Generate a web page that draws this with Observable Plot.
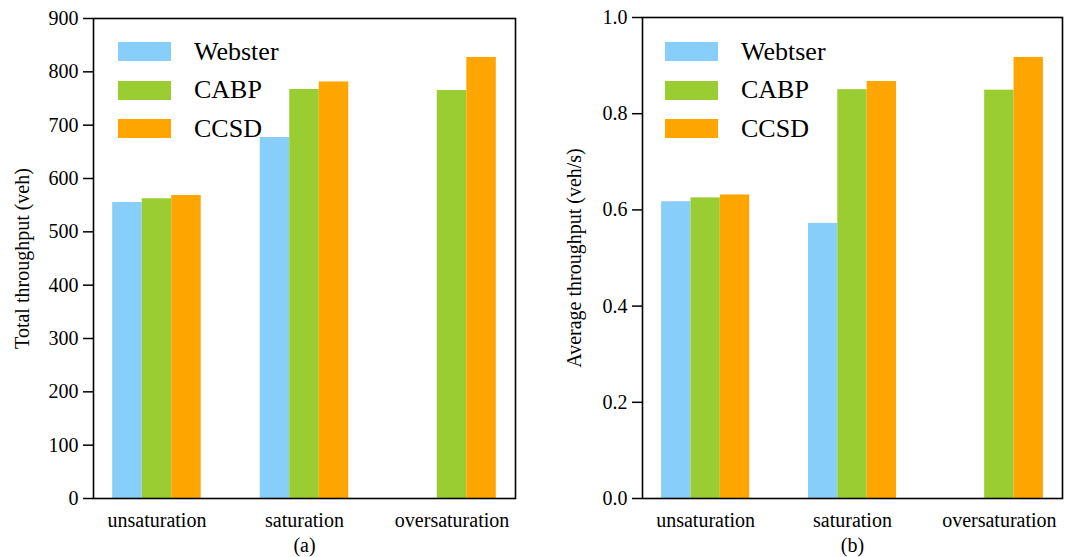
<!DOCTYPE html>
<html>
<head>
<meta charset="utf-8">
<script src="https://cdn.jsdelivr.net/npm/d3@7"></script>
<script src="https://cdn.jsdelivr.net/npm/@observablehq/plot@0.6"></script>
<style>
  html, body { margin: 0; padding: 0; background: #fff; }
  #wrap { position: relative; width: 1078px; height: 557px; overflow: hidden; font-family: "Liberation Serif", "Times New Roman", serif; }
  .panel { position: absolute; top: 0; }
  .legend { position: absolute; top: 0; left: 0; width: 100%; height: 100%; pointer-events: none; }
  .lg-row { position: absolute; display: flex; align-items: center; font-size: 26px; color: #000; }
  .lg-patch { width: 53px; height: 19px; margin-right: 23px; }
</style>
</head>
<body>
<div id="wrap"></div>
<script>
// ---- data ----
const categories = ["unsaturation", "saturation", "oversaturation"];
const colors = ["#87CEFA", "#9ACD32", "#FFA500"];

// panel (a): Total throughput (veh)
const seriesA = ["Webster", "CABP", "CCSD"];
const websterTotal = [555, 677, null];
const cabpTotal = [562, 767, 765];
const ccsdTotal = [568, 781, 827];
const ticksA = [0, 100, 200, 300, 400, 500, 600, 700, 800, 900];

// panel (b): Average throughput (veh/s)
const seriesB = ["Webtser", "CABP", "CCSD"];
const websterAvg = [0.617, 0.572, null];
const cabpAvg = [0.625, 0.850, 0.849];
const ccsdAvg = [0.631, 0.867, 0.917];
const ticksB = [0.0, 0.2, 0.4, 0.6, 0.8, 1.0];

const barWidth = 0.2;

function rows(seriesNames, valueLists) {
  const out = [];
  valueLists.forEach((vals, j) => {
    vals.forEach((v, i) => {
      if (v == null) return;
      const center = i + (j - 1) * barWidth;
      out.push({series: seriesNames[j], cat: i, x1: center - barWidth / 2, x2: center + barWidth / 2, value: v});
    });
  });
  return out;
}

function panel({data, seriesNames, yDomain, yTicks, yFormat, yLabel, tag, width, marginLeft, marginRight, marginTop, labelDx}) {
  return Plot.plot({
    width, height: 557,
    marginLeft, marginRight, marginTop, marginBottom: 59,
    style: {fontFamily: "'Liberation Serif', 'Times New Roman', serif", fontSize: "20px", color: "#000", background: "#fff"},
    x: {domain: [-0.43, 2.43]},
    y: {domain: yDomain},
    color: {domain: seriesNames, range: colors},
    marks: [
      Plot.rectY(data, {x1: "x1", x2: "x2", y: "value", fill: "series"}),
      Plot.axisX({ticks: [0, 1, 2], tickFormat: i => categories[i], tickSize: 0, tickPadding: 14, label: null, fontSize: 20}),
      Plot.axisY({ticks: yTicks, tickFormat: yFormat, tickSize: 10, tickPadding: 5, strokeWidth: 1.5, label: null, fontSize: 20}),
      Plot.frame({stroke: "#000", strokeWidth: 1.6}),
      Plot.text([yLabel], {text: d => d, frameAnchor: "left", rotate: -90, dx: labelDx, fontSize: 20, textAnchor: "middle", lineAnchor: "middle"}),
      Plot.text([tag], {text: d => d, frameAnchor: "bottom", dy: 47, fontSize: 20, textAnchor: "middle", lineAnchor: "middle"})
    ]
  });
}

const wrap = document.getElementById("wrap");

const pA = panel({
  data: rows(seriesA, [websterTotal, cabpTotal, ccsdTotal]),
  seriesNames: seriesA, yDomain: [0, 900], yTicks: ticksA, yFormat: d3.format("d"),
  yLabel: "Total throughput (veh)", tag: "(a)",
  width: 540, marginLeft: 93, marginRight: 25, marginTop: 18, labelDx: -71
});
pA.classList.add("panel"); pA.style.left = "0px";
wrap.appendChild(pA);

const pB = panel({
  data: rows(seriesB, [websterAvg, cabpAvg, ccsdAvg]),
  seriesNames: seriesB, yDomain: [0, 1.0], yTicks: ticksB, yFormat: d3.format(".1f"),
  yLabel: "Average throughput (veh/s)", tag: "(b)",
  width: 538, marginLeft: 102, marginRight: 16, marginTop: 17, labelDx: -68
});
pB.classList.add("panel"); pB.style.left = "540px";
wrap.appendChild(pB);

// legends (upper-left inside each axes)
function legend(seriesNames, left) {
  const box = document.createElement("div");
  box.className = "legend";
  seriesNames.forEach((name, j) => {
    const row = document.createElement("div");
    row.className = "lg-row";
    row.style.left = left + "px";
    row.style.top = (33 + j * 38.5) + "px";
    row.style.height = "37px";
    const patch = document.createElement("div");
    patch.className = "lg-patch";
    patch.style.background = colors[j];
    const label = document.createElement("span");
    label.textContent = name;
    row.appendChild(patch); row.appendChild(label);
    box.appendChild(row);
  });
  wrap.appendChild(box);
}
legend(seriesA, 118);
legend(seriesB, 665);
</script>
</body>
</html>
